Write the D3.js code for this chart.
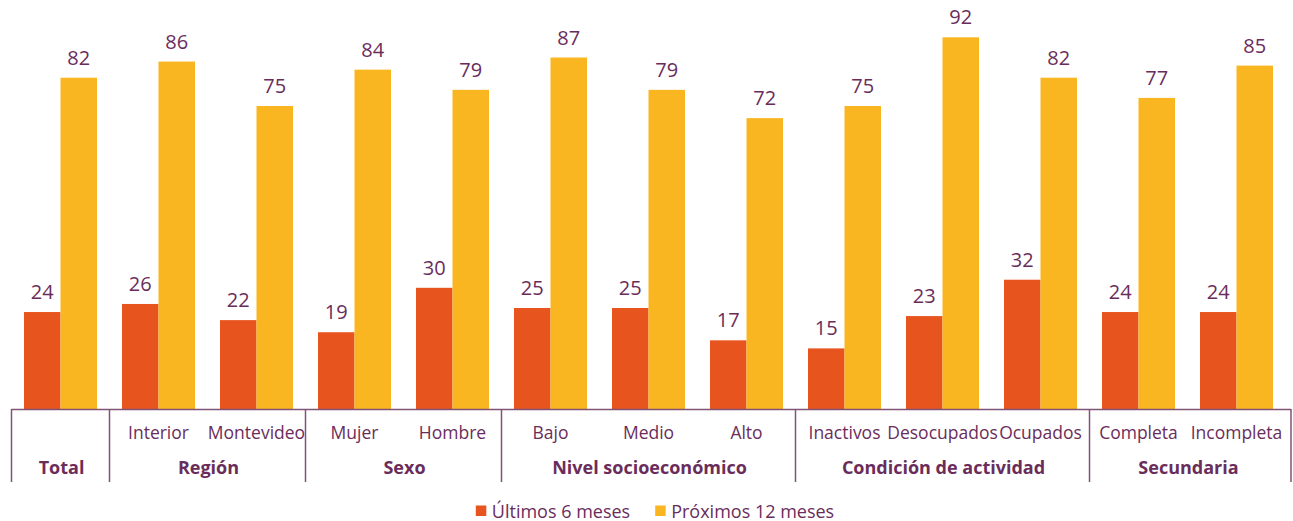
<!DOCTYPE html>
<html>
<head>
<meta charset="utf-8">
<script src="https://cdn.jsdelivr.net/npm/d3@7"></script>
<style>
  html, body { margin: 0; padding: 0; background: #ffffff; }
  svg { display: block; }
  text { font-family: "Open Sans", "Noto Sans", sans-serif; }
</style>
</head>
<body>
<svg id="chart" width="1293" height="521"></svg>
<script>
// Categories, in drawing order
const categories = ["Total", "Interior", "Montevideo", "Mujer", "Hombre", "Bajo", "Medio", "Alto",
  "Inactivos", "Desocupados", "Ocupados", "Completa", "Incompleta"];
// Tick labels shown under each pair of bars (the overall total has none)
const tickLabels = ["", "Interior", "Montevideo", "Mujer", "Hombre", "Bajo", "Medio", "Alto",
  "Inactivos", "Desocupados", "Ocupados", "Completa", "Incompleta"];
// Grouping row of the table under the axis
const groupNames = ["Total", "Región", "Sexo", "Nivel socioeconómico", "Condición de actividad", "Secundaria"];
const groupSizes = [1, 2, 2, 3, 3, 2];
// Series
const seriesNames = ["Últimos 6 meses", "Próximos 12 meses"];
const ultimos6 = [24, 26, 22, 19, 30, 25, 25, 17, 15, 23, 32, 24, 24];
const proximos12 = [82, 86, 75, 84, 79, 87, 79, 72, 75, 92, 82, 77, 85];

const colors = ["#e8541e", "#f9b621"];
const textColor = "#6a2d5b";
const lineColor = "#7f5276";

const W = 1293, H = 521;
const baseY = 409;
const svg = d3.select("#chart");

const x = d3.scaleBand().domain(categories).range([11.5, 1285.5]).paddingInner(0).paddingOuter(0);
const x1 = d3.scaleBand().domain(seriesNames).range([0, x.bandwidth()])
  .paddingInner(0).paddingOuter(12.5 / 36.5);
const y = d3.scaleLinear().domain([0, 100]).range([baseY, baseY - 404]);

const seriesData = [ultimos6, proximos12];
const rows = categories.map((c, i) => ({ cat: c, vals: seriesNames.map((s, k) => ({ s, k, v: seriesData[k][i] })) }));

const g = svg.append("g");
const cg = g.selectAll("g.cat").data(rows).join("g")
  .attr("class", "cat")
  .attr("transform", d => `translate(${x(d.cat)},0)`);

cg.selectAll("rect").data(d => d.vals).join("rect")
  .attr("x", d => x1(d.s))
  .attr("y", d => y(d.v))
  .attr("width", x1.bandwidth())
  .attr("height", d => y(0) - y(d.v))
  .attr("fill", d => colors[d.k]);

cg.selectAll("text.val").data(d => d.vals).join("text")
  .attr("class", "val")
  .attr("x", d => x1(d.s) + x1.bandwidth() / 2)
  .attr("y", d => y(d.v) - 13)
  .attr("text-anchor", "middle")
  .attr("font-size", 20)
  .attr("fill", textColor)
  .text(d => d.v);

// Table under the axis
const tableRight = W - 2;
const tableBottom = 482;
g.append("line")
  .attr("x1", x.range()[0]).attr("x2", tableRight)
  .attr("y1", baseY + 0.5).attr("y2", baseY + 0.5)
  .attr("stroke", lineColor).attr("stroke-width", 1.5);

// Group boundaries
let idx = 0;
const groups = groupNames.map((name, i) => {
  const start = idx;
  idx += groupSizes[i];
  const x0 = x(categories[start]);
  const xEnd = idx >= categories.length ? tableRight : x(categories[idx]);
  return { name, x0, x1: xEnd };
});
const edges = [groups[0].x0].concat(groups.map(d => d.x1));
g.selectAll("line.div").data(edges).join("line")
  .attr("class", "div")
  .attr("x1", d => d).attr("x2", d => d)
  .attr("y1", baseY).attr("y2", tableBottom)
  .attr("stroke", lineColor).attr("stroke-width", 1.5);

g.selectAll("text.tick").data(categories).join("text")
  .attr("class", "tick")
  .attr("x", d => x(d) + x.bandwidth() / 2)
  .attr("y", 439)
  .attr("text-anchor", "middle")
  .attr("font-size", 17.5)
  .attr("fill", textColor)
  .text((d, i) => tickLabels[i]);

g.selectAll("text.grp").data(groups).join("text")
  .attr("class", "grp")
  .attr("x", d => (d.x0 + Math.min(d.x1, x.range()[1])) / 2 + 1)
  .attr("y", 474)
  .attr("text-anchor", "middle")
  .attr("font-size", 18)
  .attr("font-weight", "bold")
  .attr("fill", textColor)
  .text(d => d.name);

// Legend
const legend = svg.append("g");
const items = legend.selectAll("g").data(seriesNames).join("g");
items.append("rect")
  .attr("width", 10.5).attr("height", 10.5)
  .attr("y", 505.5)
  .attr("fill", (d, i) => colors[i]);
items.append("text")
  .attr("x", 16).attr("y", 517.5)
  .attr("font-size", 18)
  .attr("fill", textColor)
  .text(d => d);
let lx = 0;
const widths = [];
items.each(function () { widths.push(this.querySelector("text").getComputedTextLength() + 16); });
const gap = 25;
const total = d3.sum(widths) + gap * (widths.length - 1);
lx = 655 - total / 2;
items.attr("transform", (d, i) => {
  const t = `translate(${lx},0)`;
  lx += widths[i] + gap;
  return t;
});
</script>
</body>
</html>
